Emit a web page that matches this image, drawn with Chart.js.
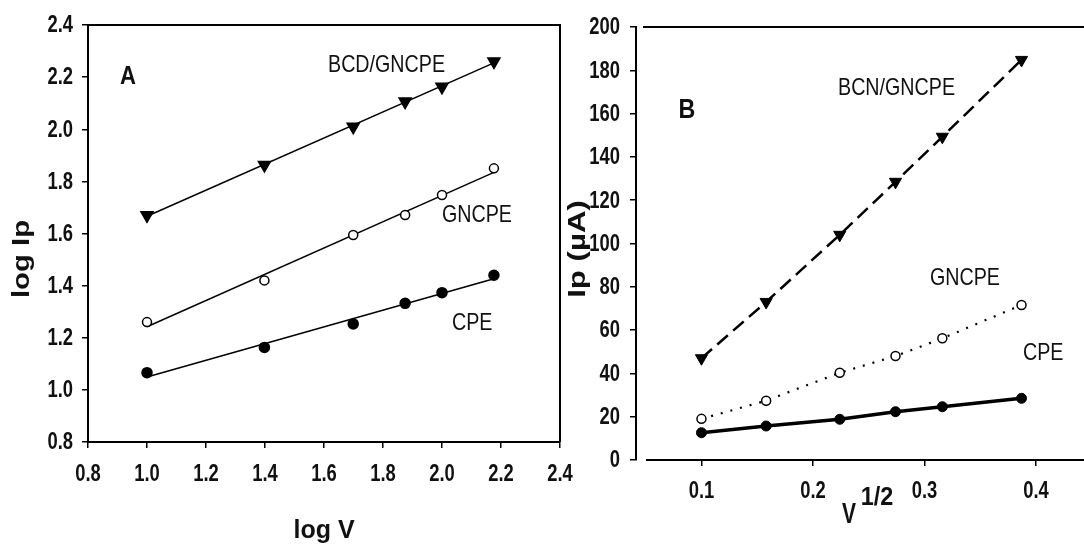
<!DOCTYPE html>
<html><head><meta charset="utf-8">
<script src="https://cdn.jsdelivr.net/npm/chart.js@4.4.1/dist/chart.umd.min.js"></script>
<style>
html,body{margin:0;padding:0;background:#fff;overflow:hidden;width:1084px;height:552px;}
#ca{position:absolute;left:0;top:0;}
#cb{position:absolute;left:540px;top:0;}
</style></head><body>
<canvas id="ca" width="600" height="552"></canvas>
<canvas id="cb" width="560" height="552"></canvas>
<script>
// ---- Panel A data ----
const logV = [1.0, 1.398, 1.699, 1.875, 2.0, 2.176];
const logIpBCD = [1.67, 1.863, 2.01, 2.106, 2.163, 2.26];
const logIpGNCPE = [1.26, 1.42, 1.594, 1.671, 1.748, 1.85];
const logIpCPE = [1.066, 1.163, 1.253, 1.332, 1.373, 1.44];
const ticksAx = [0.8, 1.0, 1.2, 1.4, 1.6, 1.8, 2.0, 2.2, 2.4];
const ticksAy = [0.8, 1.0, 1.2, 1.4, 1.6, 1.8, 2.0, 2.2, 2.4];
// ---- Panel B data ----
const sqrtV = [0.1, 0.158, 0.224, 0.274, 0.316, 0.387];
const ipBCN = [47, 73, 104, 128.5, 149.3, 184.8];
const ipGNCPE = [19, 27.4, 40.3, 48, 56.2, 71.6];
const ipCPE = [12.6, 15.7, 18.8, 22.3, 24.6, 28.5];
const ticksBx = [0.1, 0.2, 0.3, 0.4];
const ticksBy = [0, 20, 40, 60, 80, 100, 120, 140, 160, 180, 200];

const INK = '#111';
const SANS = '"Liberation Sans", Arial, sans-serif';
const TICKFONT = 'bold 23px ' + SANS;
const TICKSX = 0.8;

function pts(xs, ys){ return xs.map((x,i)=>({x:x, y:ys[i]})); }
function fitLine(xs, ys){
  const n = xs.length;
  const mx = xs.reduce((a,b)=>a+b,0)/n, my = ys.reduce((a,b)=>a+b,0)/n;
  let sxy=0, sxx=0;
  for(let i=0;i<n;i++){ sxy += (xs[i]-mx)*(ys[i]-my); sxx += (xs[i]-mx)*(xs[i]-mx); }
  const m = sxy/sxx, b = my - m*mx;
  const x0 = xs[0], x1 = xs[n-1];
  return [{x:x0, y:m*x0+b}, {x:x1, y:m*x1+b}];
}

function drawText(ctx, t){
  ctx.save();
  ctx.fillStyle = INK;
  ctx.font = t.font;
  ctx.textAlign = t.align || 'center';
  ctx.textBaseline = 'middle';
  ctx.translate(t.x, t.y);
  if (t.rot) ctx.rotate(t.rot);
  ctx.scale(t.sx || 1, 1);
  ctx.fillText(t.text, 0, 0);
  ctx.restore();
}

// draws tick labels at the library's own tick positions
function tickLabels(chart, xTicks, yTicks, xLabelY, yLabelRight, fmtX, fmtY){
  const ctx = chart.ctx, xs = chart.scales.x, ys = chart.scales.y;
  xTicks.forEach(v=>drawText(ctx, {text:fmtX(v), x:xs.getPixelForValue(v), y:xLabelY, font:TICKFONT, sx:TICKSX}));
  yTicks.forEach(v=>drawText(ctx, {text:fmtY(v), x:yLabelRight, y:ys.getPixelForValue(v)+1, font:TICKFONT, sx:TICKSX, align:'right'}));
}

function axisOpts(min, max, ticks, fitFn, showBorder){
  return {type:'linear', min:min, max:max,
    afterBuildTicks:s=>{ s.ticks = ticks.map(v=>({value:v})); },
    afterFit:s=>{ fitFn(s); s.paddingLeft=0; s.paddingRight=0; s.paddingTop=0; s.paddingBottom=0; },
    grid:{display:true, drawOnChartArea:false, drawTicks:true, tickLength:6, color:'#000', lineWidth:1.5},
    border:showBorder ? {display:true, color:'#000', width:2} : {display:false},
    ticks:{display:false, autoSkip:false}
  };
}

// ---------- Chart A ----------
const markerA = (data, style) => Object.assign({data: data, showLine:false, order:0, borderColor:'#000', borderWidth:1.5}, style);
const lineA = (data) => ({data: data, showLine:true, pointRadius:0, borderColor:'#000', borderWidth:1.5, order:1, fill:false});

new Chart(document.getElementById('ca'), {
  type:'scatter',
  data:{ datasets:[
    lineA(fitLine(logV, logIpBCD)),
    lineA(fitLine(logV, logIpGNCPE)),
    lineA(fitLine(logV, logIpCPE)),
    markerA(pts(logV, logIpBCD), {pointStyle:'triangle', rotation:180, pointRadius:7, backgroundColor:'#000'}),
    markerA(pts(logV, logIpGNCPE), {pointStyle:'circle', pointRadius:4.5, backgroundColor:'#fff'}),
    markerA(pts(logV, logIpCPE), {pointStyle:'circle', pointRadius:5, backgroundColor:'#000'})
  ]},
  options:{
    responsive:false, animation:false, devicePixelRatio:1,
    layout:{padding:{left:0, top:25, right:40, bottom:0}},
    plugins:{legend:{display:false}, tooltip:{enabled:false}},
    scales:{
      x:axisOpts(0.8, 2.4, ticksAx, s=>{ s.height = 110; }, true),
      y:axisOpts(0.8, 2.4, ticksAy, s=>{ s.width = 88; }, true)
    }
  },
  plugins:[{id:'decoA', afterDraw(chart){
    const ctx = chart.ctx, a = chart.chartArea;
    ctx.save();
    ctx.strokeStyle = '#000'; ctx.lineWidth = 2;
    ctx.beginPath();
    ctx.moveTo(a.left, a.top); ctx.lineTo(a.right, a.top); ctx.lineTo(a.right, a.bottom);
    ctx.stroke();
    ctx.restore();
    tickLabels(chart, ticksAx, ticksAy, 475, 73, v=>v.toFixed(1), v=>v.toFixed(1));
    [
      {text:'A', x:128, y:77, font:'bold 26px '+SANS, sx:0.85},
      {text:'BCD/GNCPE', x:328, y:65, align:'left', font:'24px '+SANS, sx:0.82},
      {text:'GNCPE', x:442, y:215, align:'left', font:'24px '+SANS, sx:0.82},
      {text:'CPE', x:452, y:323, align:'left', font:'24px '+SANS, sx:0.82},
      {text:'log Ip', x:22, y:259, rot:-Math.PI/2, font:'bold 24px '+SANS, sx:1.22},
      {text:'log V', x:324, y:531, font:'bold 25px '+SANS}
    ].forEach(t=>drawText(ctx, t));
  }}]
});

// ---------- Chart B ----------
const OX = 540;
new Chart(document.getElementById('cb'), {
  type:'scatter',
  data:{ datasets:[
    {data:pts(sqrtV, ipBCN), showLine:true, borderColor:'#000', borderWidth:2.5, borderDash:[14,7],
      pointStyle:'triangle', rotation:180, pointRadius:7, pointBackgroundColor:'#000', pointBorderColor:'#000', pointBorderWidth:1},
    {data:pts(sqrtV, ipGNCPE), showLine:true, borderColor:'#000', borderWidth:2.2, borderDash:[2,8],
      pointStyle:'circle', pointRadius:4.5, pointBackgroundColor:'#fff', pointBorderColor:'#000', pointBorderWidth:1.5},
    {data:pts(sqrtV, ipCPE), showLine:true, borderColor:'#000', borderWidth:3.5,
      pointStyle:'circle', pointRadius:5, pointBackgroundColor:'#000', pointBorderColor:'#000', pointBorderWidth:1}
  ]},
  options:{
    responsive:false, animation:false, devicePixelRatio:1,
    layout:{padding:{left:0, top:27, right:6, bottom:0}},
    plugins:{legend:{display:false}, tooltip:{enabled:false}},
    scales:{
      x:axisOpts(0.0413, 0.4502, ticksBx, s=>{ s.height = 92; }, false),
      y:axisOpts(0, 200, ticksBy, s=>{ s.width = 96; }, true)
    }
  },
  plugins:[{id:'decoB', afterDraw(chart){
    const ctx = chart.ctx, a = chart.chartArea;
    ctx.save();
    ctx.strokeStyle = '#000'; ctx.lineWidth = 2;
    ctx.beginPath();
    ctx.moveTo(643-OX, a.top); ctx.lineTo(chart.width, a.top);
    ctx.moveTo(646-OX, a.bottom); ctx.lineTo(chart.width, a.bottom);
    ctx.stroke();
    ctx.restore();
    tickLabels(chart, ticksBx, ticksBy, 492, 620-OX, v=>v.toFixed(1), v=>String(v));
    [
      {text:'B', x:687-OX, y:110, font:'bold 28px '+SANS, sx:0.83},
      {text:'BCN/GNCPE', x:838-OX, y:88, align:'left', font:'24px '+SANS, sx:0.82},
      {text:'GNCPE', x:930-OX, y:278, align:'left', font:'24px '+SANS, sx:0.82},
      {text:'CPE', x:1023-OX, y:353, align:'left', font:'24px '+SANS, sx:0.82},
      {text:'Ip (\u00b5A)', x:578-OX, y:249, rot:-Math.PI/2, font:'bold 24px '+SANS, sx:1.3},
      {text:'V', x:849-OX, y:515, font:'bold 30px '+SANS, sx:0.7},
      {text:'1/2', x:877-OX, y:498, font:'bold 26px '+SANS, sx:0.9}
    ].forEach(t=>drawText(ctx, t));
  }}]
});
</script>
</body></html>
